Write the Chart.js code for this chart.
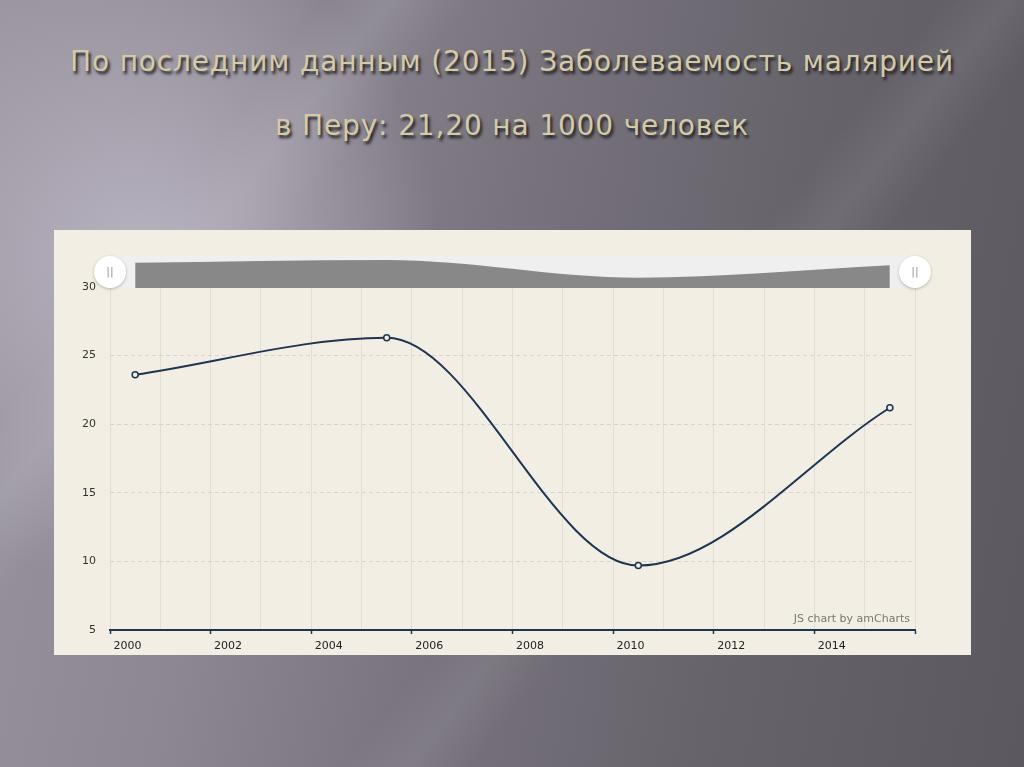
<!DOCTYPE html>
<html lang="ru">
<head>
<meta charset="utf-8">
<title>Заболеваемость малярией в Перу</title>
<script src="https://cdn.jsdelivr.net/npm/chart.js@4/dist/chart.umd.min.js"></script>
<style>
    html, body { margin: 0; padding: 0; }
    body {
        width: 1024px; height: 767px; overflow: hidden; position: relative;
        background:
            radial-gradient(ellipse 300px 330px at 140px 260px, rgba(186,181,194,0.95), rgba(186,181,194,0) 100%),
            linear-gradient(128deg, rgba(255,255,255,0) 20%, rgba(255,255,255,0.10) 24%, rgba(255,255,255,0) 29%),
            linear-gradient(128deg, rgba(255,255,255,0) 58%, rgba(255,255,255,0.07) 62%, rgba(255,255,255,0) 66%),
            linear-gradient(100deg, #98939e 0%, #8c8792 25%, #77727c 48%, #67636b 72%, #5c5860 100%);
    }
    .title {
        position: absolute; left: 0; width: 1024px; text-align: center;
        font-family: "DejaVu Sans", sans-serif;
        font-size: 28px; line-height: 34px; color: #d3cba6; letter-spacing: 0.85px;
        text-shadow: 2px 3px 3px #1c1a1e;
        white-space: nowrap;
    }
    #panel {
        position: absolute; left: 54px; top: 230px; width: 917px; height: 425px;
        background: #f2eee3;
    }
    #mainChart { position: absolute; left: 0; top: 0; }
    #scrollBg {
        position: absolute; left: 56px; top: 26px; width: 805px; height: 32px;
        background: #efefef;
    }
    #scrollChart { position: absolute; left: 56px; top: 27px; }
    .handle {
        position: absolute; top: 26px; width: 32px; height: 32px; border-radius: 50%;
        background: #fff; box-shadow: 0 1px 3px rgba(0,0,0,0.25);
        font: 11px "DejaVu Sans", sans-serif; color: #999; text-align: center; line-height: 32px;
    }
    .credits {
        position: absolute; right: 61px; top: 382px;
        font: 11px "DejaVu Sans", sans-serif; color: #777;
    }
</style>
</head>
<body>
<div class="title" style="top:45px">По последним данным (2015) Заболеваемость малярией</div>
<div class="title" style="top:109px">в Перу: 21,20 на 1000 человек</div>

<div id="panel">
    <canvas id="mainChart" width="917" height="425"></canvas>
    <div id="scrollBg"></div>
    <canvas id="scrollChart" width="805" height="31"></canvas>
    <div class="handle" style="left:40px">||</div>
    <div class="handle" style="left:845px">||</div>
    <div class="credits">JS chart by amCharts</div>
</div>

<script>
    // Данные (точки стоят в середине года, как у amCharts)
    const years = [2000, 2005, 2010, 2015];
    const incidence = [23.6, 26.3, 9.7, 21.2];
    const yTicks = [5, 10, 15, 20, 25, 30];

    const lineColor = '#1b3553';
    const points = years.map((y, i) => ({ x: y + 0.5, y: incidence[i] }));

    Chart.defaults.font.family = '"DejaVu Sans", Verdana, sans-serif';
    Chart.defaults.font.size = 11;
    Chart.defaults.color = '#333';

    // Основной график
    new Chart(document.getElementById('mainChart'), {
        type: 'line',
        data: {
            datasets: [{
                data: points,
                borderColor: lineColor,
                borderWidth: 2,
                cubicInterpolationMode: 'monotone',
                pointRadius: 3,
                pointBorderWidth: 1.5,
                pointBackgroundColor: '#f2eee3',
                pointBorderColor: lineColor,
                fill: false
            }]
        },
        options: {
            responsive: false,
            animation: false,
            layout: { padding: { left: 0, right: 56, top: 57, bottom: 0 } },
            plugins: { legend: { display: false }, tooltip: { enabled: false } },
            scales: {
                x: {
                    type: 'linear',
                    min: 2000,
                    max: 2016,
                    afterFit: s => { s.height = 25; },
                    grid: {
                        color: '#e2ded2',
                        tickLength: 4,
                        tickColor: ctx => (ctx.tick && ctx.tick.value % 2 === 0) ? lineColor : 'transparent',
                        tickWidth: 1.5
                    },
                    border: { color: lineColor, width: 2 },
                    ticks: {
                        stepSize: 1,
                        autoSkip: false,
                        maxRotation: 0,
                        align: 'start',
                        padding: 6,
                        color: '#222',
                        callback: v => (v % 2 === 0 && v < 2016) ? ' ' + v : ''
                    }
                },
                y: {
                    min: 5,
                    max: 30,
                    afterFit: s => { s.width = 56; },
                    afterBuildTicks: s => { s.ticks = yTicks.map(v => ({ value: v })); },
                    grid: { color: '#d9d5c9', drawTicks: false },
                    border: { display: false, dash: [4, 3] },
                    ticks: { padding: 14, color: '#333' }
                }
            }
        }
    });

    // Скроллбар с мини-графиком
    new Chart(document.getElementById('scrollChart'), {
        type: 'line',
        data: {
            datasets: [{
                data: points,
                borderWidth: 0,
                cubicInterpolationMode: 'monotone',
                pointRadius: 0,
                backgroundColor: '#888888',
                fill: 'origin'
            }]
        },
        options: {
            responsive: false,
            animation: false,
            layout: { padding: 0 },
            plugins: { legend: { display: false }, tooltip: { enabled: false } },
            scales: {
                x: { type: 'linear', min: 2000, max: 2016, display: false },
                y: { min: 0, max: 29, display: false }
            }
        }
    });
</script>
</body>
</html>
